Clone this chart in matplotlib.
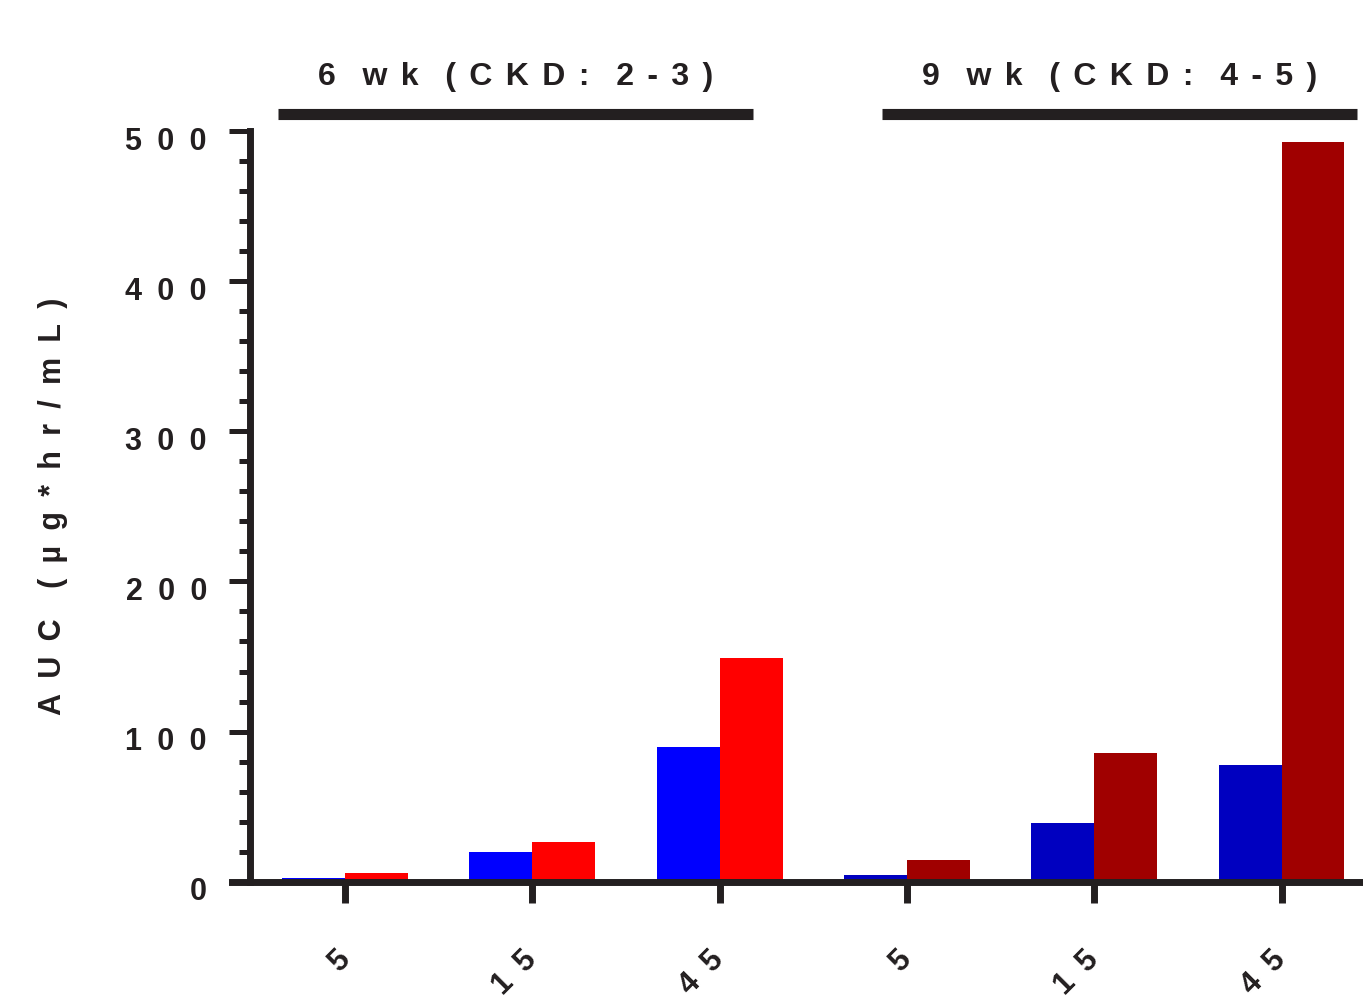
import matplotlib
matplotlib.use("Agg")
import matplotlib.pyplot as plt
import matplotlib.transforms as mtrans
import numpy as np
from matplotlib.ticker import MultipleLocator

plt.rcParams['font.family'] = ['Liberation Sans', 'DejaVu Sans']
plt.rcParams['font.weight'] = 'bold'

doses = ["5", "15", "45", "5", "15", "45"]
blue_vals = [2.5, 19.6, 89.7, 4.3, 38.9, 77.7]
red_vals = [5.6, 26.3, 149.0, 14.3, 85.7, 493.0]
blue_colors = ["#0000FF"] * 3 + ["#0000C0"] * 3
red_colors = ["#FF0000"] * 3 + ["#A00000"] * 3
groups = ["6 wk (CKD: 2-3)", "9 wk (CKD: 4-5)"]

ENSP = "\u2002"
TITLE_SP = "\u2005\u2006"


def spaced(s, sep=ENSP):
    # wide letter spacing, as in the original export
    return sep.join("" if c == " " else c for c in s)


DARK = "#231F20"
FS = 22
W, H = 1363, 1001
fig = plt.figure(figsize=(W / 100, H / 100), dpi=100)
ax = fig.add_axes([250 / W, 1 - 881.7 / H, 1 - 250 / W, (881.7 - 131) / H])

x = np.arange(len(doses))
bw = 0.336
ax.bar(x - bw, blue_vals, width=bw, align="edge", color=blue_colors, linewidth=0, zorder=2)
ax.bar(x, red_vals, width=bw, align="edge", color=red_colors, linewidth=0, zorder=2)

ax.set_xlim(-0.507, 5.435)
ax.set_ylim(0, 500)
for s in ["top", "right"]:
    ax.spines[s].set_visible(False)
for s in ["left", "bottom"]:
    ax.spines[s].set_linewidth(5)
    ax.spines[s].set_color(DARK)
    ax.spines[s].set_zorder(3)
ax.spines["bottom"].set_bounds(-0.603, 5.435)

ax.yaxis.set_major_locator(MultipleLocator(100))
ax.yaxis.set_minor_locator(MultipleLocator(20))
ax.tick_params(axis="y", which="major", length=15, width=3.6, color=DARK, pad=16)
ax.tick_params(axis="y", which="minor", length=8, width=3.6, color=DARK)
ax.set_yticks(range(0, 501, 100))
ax.set_yticklabels([spaced(str(v)) for v in range(0, 501, 100)],
                   fontsize=FS, fontweight="bold", color=DARK)
down = mtrans.ScaledTranslation(0, -7 / 100, fig.dpi_scale_trans)
for lbl in ax.get_yticklabels():
    lbl.set_transform(lbl.get_transform() + down)

ax.set_xticks(x)
ax.set_xticklabels([spaced(d) for d in doses], rotation=45, ha="right", va="center",
                   rotation_mode="anchor", fontsize=FS, fontweight="bold", color=DARK)
ax.tick_params(axis="x", length=15, width=5, color=DARK, pad=38)

ax.set_ylabel(spaced("AUC (µg*hr/mL)"), fontsize=FS, fontweight="bold", color=DARK)
ax.yaxis.set_label_coords(-(250 - 68) / (W - 250), 0.5)

# group bars with titles
for (x0, x1), name in zip([(278, 753), (882, 1357)], groups):
    fig.add_artist(plt.Line2D([x0 / W, x1 / W], [1 - 113.5 / H] * 2, color=DARK,
                              linewidth=8, solid_capstyle="butt"))
    fig.text((x0 + x1) / 2 / W, 1 - 77 / H, spaced(name, TITLE_SP), ha="center",
             va="center", fontsize=23, fontweight="bold", color=DARK)

fig.savefig("out.png", dpi=100)
